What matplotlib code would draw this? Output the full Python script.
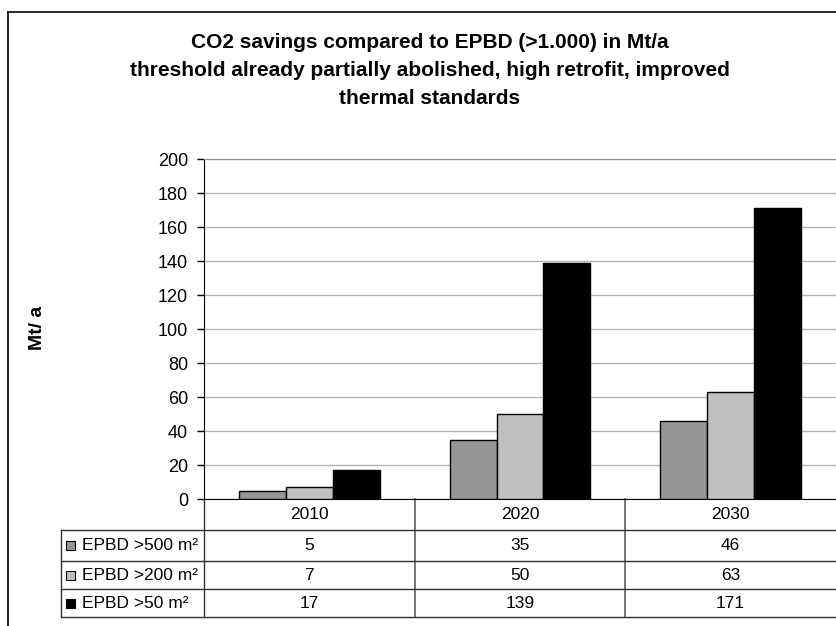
import matplotlib
matplotlib.use('Agg')
import matplotlib.pyplot as plt
from matplotlib.patches import Rectangle
from matplotlib.lines import Line2D
import matplotlib.transforms as mtransforms

plt.rcParams['font.family'] = ['Liberation Sans', 'DejaVu Sans']

years = ['2010', '2020', '2030']
series = ['EPBD >500 m²', 'EPBD >200 m²', 'EPBD >50 m²']
epbd_500 = [5, 35, 46]
epbd_200 = [7, 50, 63]
epbd_50 = [17, 139, 171]
values = [epbd_500, epbd_200, epbd_50]
colors = ['#969696', '#c0c0c0', '#000000']
yticks = [0, 20, 40, 60, 80, 100, 120, 140, 160, 180, 200]

W, H = 837, 626
fig = plt.figure(figsize=(W / 100, H / 100), dpi=100)

def fx(x):
    return x / W

def fy(y):
    return 1 - y / H

# outer chart frame (cut off at right / bottom like the source)
fig.add_artist(Line2D([fx(8), fx(8)], [fy(12), fy(H + 5)], color='black', lw=1.2))
fig.add_artist(Line2D([fx(8), fx(W + 5)], [fy(12), fy(12)], color='black', lw=1.2))

# title
titles = ['CO2 savings compared to EPBD (>1.000) in Mt/a',
          'threshold already partially abolished, high retrofit, improved',
          'thermal standards']
for t, yy in zip(titles, [43, 71, 99]):
    fig.text(fx(429.5), fy(yy), t, ha='center', va='center', fontsize=15, fontweight='bold')

fig.text(fx(37), fy(328), 'Mt/ a', rotation=90, ha='center', va='center',
         fontsize=14, fontweight='bold')

ax = fig.add_axes([fx(204), fy(499), 632 / W, 340 / H])
bw = 1 / 4.5
x = list(range(len(years)))
for i, (vals, c) in enumerate(zip(values, colors)):
    ax.bar([xi + (i - 1) * bw for xi in x], vals, width=bw, color=c,
           edgecolor='black', linewidth=1, zorder=3)

ax.set_xlim(-0.5, 2.5)
ax.set_ylim(0, 200)
ax.set_yticks(yticks)
ax.set_xticks([])
ax.yaxis.grid(True, color='#b4b4b4', lw=1, zorder=0)
ax.set_axisbelow(True)
ax.tick_params(axis='y', length=5, width=1, labelsize=13, pad=6.5)
ax.spines['left'].set_color('black')
ax.spines['bottom'].set_color('black')
ax.spines['top'].set_color('#909090')
ax.spines['right'].set_color('#c8c8c8')

# data table under the axis
tr = mtransforms.blended_transform_factory(ax.transData, fig.transFigure)
rows = [499, 530, 561, 589, 617]
lc = '#303030'
for yy in rows[1:]:
    fig.add_artist(Line2D([fx(61), fx(836)], [fy(yy), fy(yy)], color=lc, lw=1))
fig.add_artist(Line2D([fx(61), fx(61)], [fy(530), fy(617)], color=lc, lw=1))
fig.add_artist(Line2D([fx(204), fx(204)], [fy(499), fy(617)], color=lc, lw=1))
for b in [0.5, 1.5]:
    ax.plot([b, b], [fy(499), fy(617)], transform=tr, color='#606060', lw=1.2, clip_on=False)

for xi, yr in zip(x, years):
    ax.text(xi, fy((rows[0] + rows[1]) / 2), yr, transform=tr, ha='center', va='center', fontsize=12.5)

for r, (name, vals, c) in enumerate(zip(series, values, colors)):
    yc = (rows[r + 1] + rows[r + 2]) / 2
    fig.patches.append(Rectangle((fx(66), fy(yc + 4.5)), 9 / W, 9 / H, transform=fig.transFigure,
                                 facecolor=c, edgecolor='black', lw=0.8))
    fig.text(fx(82), fy(yc), name, ha='left', va='center', fontsize=12.5)
    for xi, v in zip(x, vals):
        ax.text(xi, fy(yc), str(v), transform=tr, ha='center', va='center', fontsize=12.5)

fig.savefig('out.png', dpi=100)
